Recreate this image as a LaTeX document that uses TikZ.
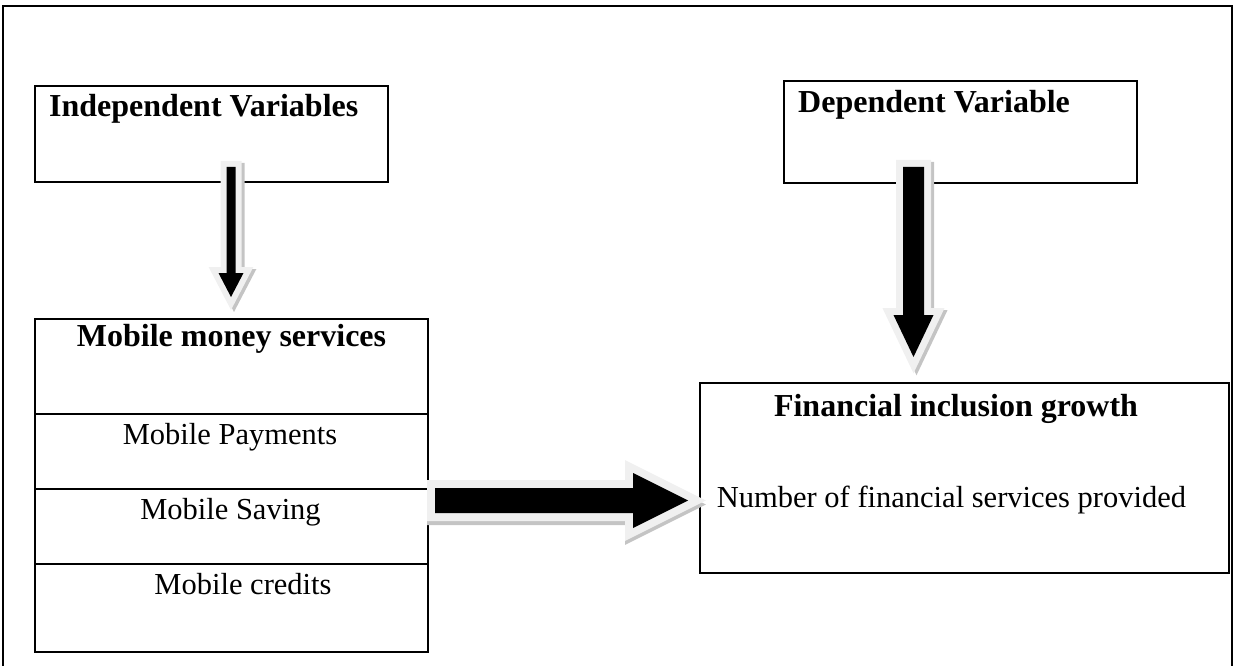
\documentclass[tikz,border=0pt]{standalone}
\usepackage{fontspec}
\setmainfont{Liberation Serif}
\definecolor{halo}{HTML}{F0F0F0}
\definecolor{shadowgray}{HTML}{C4C4C4}
\newcommand{\fatarrow}[3]{%
  \draw[draw=shadowgray, line width=#2, line join=miter, shift={#1}] #3;
  \draw[draw=halo, line width=#2, line join=miter] #3;
  \fill[black] #3;}
\begin{document}
\begin{tikzpicture}[x=1pt,y=-1pt,
  box/.style={draw, line width=2pt, inner sep=0pt},
  txt/.style={anchor=base, inner sep=0pt, font=\fontsize{30.5}{37}\selectfont},
  btxt/.style={txt, font=\fontsize{32}{38}\selectfont\bfseries}]
\useasboundingbox (0,0) rectangle (1237,666);
% outer frame
\draw[line width=1.6pt] (3,666) -- (3,6) -- (1232,6) -- (1232,666);
% boxes
\node[box, minimum width=353pt, minimum height=96pt] (indep) at (211.5,134) {};
\node[box, minimum width=353pt, minimum height=102pt] (dep) at (960.5,132) {};
\node[box, minimum width=393pt, minimum height=333pt] (mms) at (231.5,485.5) {};
\node[box, minimum width=529pt, minimum height=190pt] (fig) at (964.5,478) {};
\draw[line width=2pt] (mms.west |- 0,414) -- (mms.east |- 0,414);
\draw[line width=2pt] (mms.west |- 0,489) -- (mms.east |- 0,489);
\draw[line width=2pt] (mms.west |- 0,564) -- (mms.east |- 0,564);
% texts
\node[btxt, anchor=base west] (tindep) at (49,117) {Independent Variables};
\node[btxt, anchor=base west] (tdep) at (798,113) {Dependent Variable};
\node[btxt] (tmms) at (231.5,346) {Mobile money services};
\node[txt] (tpay) at (230,444) {Mobile Payments};
\node[txt] (tsav) at (230.5,519) {Mobile Saving};
\node[txt] (tcred) at (243,594) {Mobile credits};
\node[btxt] (tfig) at (956,416) {Financial inclusion growth};
\node[txt] (tnum) at (951.5,507) {Number of financial services provided};
% block arrows
\fatarrow{(3,2)}{12pt}{(226.5,167) -- (235.5,167) -- (235.5,273) -- (243.5,273) -- (231,297) -- (218.5,273) -- (226.5,273) -- cycle}
\fatarrow{(3,2)}{14pt}{(903,167) -- (924,167) -- (924,315) -- (933.5,315) -- (913.5,357) -- (893.5,315) -- (903,315) -- cycle}
\fatarrow{(0,4)}{16pt}{(435,488) -- (633,488) -- (633,473) -- (688,500.5) -- (633,528) -- (633,513) -- (435,513) -- cycle}
\end{tikzpicture}
\end{document}
